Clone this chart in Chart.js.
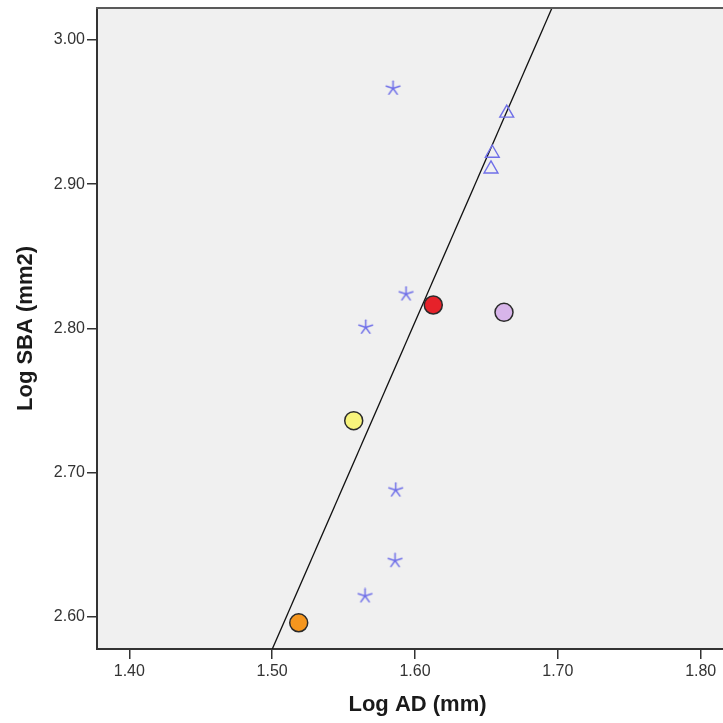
<!DOCTYPE html>
<html>
<head>
<meta charset="utf-8">
<script src="https://cdn.jsdelivr.net/npm/chart.js@4.4.1/dist/chart.umd.min.js"></script>
<style>
  html, body { margin: 0; padding: 0; background: #ffffff; overflow: hidden; width: 723px; height: 723px; }
  #wrap { position: absolute; left: 0; top: 0; width: 738px; height: 723px; }
</style>
</head>
<body>
<div id="wrap"><canvas id="c" width="738" height="723"></canvas></div>
<script>
// ---- data ----
const starAD  = [1.5846, 1.5937, 1.5655, 1.5865, 1.5860, 1.5650];
const starSBA = [2.9665, 2.8239, 2.8008, 2.6880, 2.6390, 2.6146];

const triAD  = [1.6642, 1.6541, 1.6532];
const triSBA = [2.9493, 2.9215, 2.9106];

// red, lavender, yellow, orange circles
const circleAD  = [1.6128, 1.6623, 1.5571, 1.5186];
const circleSBA = [2.8163, 2.8112, 2.7361, 2.5960];

// fitted line endpoints (where it meets the plot frame)
const fitAD  = [1.5001, 1.6959];
const fitSBA = [2.5778, 3.0222];

const xTickValues = [1.40, 1.50, 1.60, 1.70, 1.80];
const xTickLabels = ['1.40', '1.50', '1.60', '1.70', '1.80'];
const yTickValues = [2.60, 2.70, 2.80, 2.90, 3.00];
const yTickLabels = ['2.60', '2.70', '2.80', '2.90', '3.00'];

const xRange = [1.37739, 1.82611];
const yRange = [2.57782, 3.02218];

function pts(xs, ys) { return xs.map((x, i) => ({ x: x, y: ys[i] })); }

// asterisk marker (5 arms)
function makeStar(color) {
  const c = document.createElement('canvas');
  c.width = 17; c.height = 17;
  const g = c.getContext('2d');
  g.strokeStyle = color;
  g.lineWidth = 1.5;
  g.lineCap = 'round';
  const r = 7.2;
  for (let k = 0; k < 5; k++) {
    const a = -Math.PI / 2 + k * 2 * Math.PI / 5;
    g.beginPath();
    g.moveTo(8.5, 8.5);
    g.lineTo(8.5 + r * Math.cos(a), 8.5 + r * Math.sin(a));
    g.stroke();
  }
  return c;
}
const starImg = makeStar('#6f6fe8');

const frame = {
  id: 'frame',
  beforeDraw(chart) {
    const a = chart.chartArea, ctx = chart.ctx;
    ctx.save();
    ctx.fillStyle = '#f0f0f0';
    ctx.fillRect(a.left, a.top, a.right - a.left, a.bottom - a.top);
    ctx.restore();
  },
  afterDraw(chart) {
    const a = chart.chartArea, ctx = chart.ctx;
    ctx.save();
    ctx.strokeStyle = '#5a5a5a';
    ctx.lineWidth = 2;
    ctx.beginPath();
    ctx.moveTo(a.left - 1, a.top);
    ctx.lineTo(a.right, a.top);
    ctx.stroke();
    ctx.restore();
  }
};

const tickFont = { family: "'Liberation Sans', Arial, sans-serif", size: 16 };
const titleFont = { family: "'Liberation Sans', Arial, sans-serif", size: 22, weight: 'bold' };

new Chart(document.getElementById('c'), {
  type: 'scatter',
  data: {
    datasets: [
      {
        label: 'circles',
        data: pts(circleAD, circleSBA),
        pointStyle: 'circle',
        pointRadius: 9,
        pointBorderWidth: 1.5,
        pointBorderColor: '#2a2a2a',
        pointBackgroundColor: ['#e6222a', '#d8b5ea', '#f8f47c', '#f5961e']
      },
      {
        label: 'triangles',
        data: pts(triAD, triSBA),
        pointStyle: 'triangle',
        pointRadius: 8,
        pointBorderWidth: 1.4,
        pointBorderColor: '#6f6fe8',
        pointBackgroundColor: 'rgba(0,0,0,0)'
      },
      {
        label: 'stars',
        data: pts(starAD, starSBA),
        pointStyle: starImg,
        pointRadius: 8
      },
      {
        label: 'fit',
        type: 'line',
        data: pts(fitAD, fitSBA),
        borderColor: '#111111',
        borderWidth: 1.3,
        pointRadius: 0,
        fill: false,
        tension: 0
      }
    ]
  },
  options: {
    responsive: false,
    animation: false,
    devicePixelRatio: 1,
    layout: { autoPadding: false, padding: { top: 8, left: 0, right: 0, bottom: 0 } },
    plugins: { legend: { display: false }, tooltip: { enabled: false } },
    scales: {
      x: {
        type: 'linear',
        min: xRange[0], max: xRange[1],
        afterBuildTicks(scale) { scale.ticks = xTickValues.map(v => ({ value: v })); },
        afterFit(scale) { scale.height = 74; scale.paddingLeft = 0; scale.paddingRight = 0; },
        grid: { display: true, drawOnChartArea: false, drawTicks: true, tickLength: 10, color: '#333333', lineWidth: 1.5 },
        border: { display: true, color: '#333333', width: 2 },
        ticks: {
          font: tickFont, color: '#333333', padding: 3, maxRotation: 0,
          callback: (v, i) => xTickLabels[i]
        },
        title: { display: true, text: 'Log AD (mm)', font: titleFont, color: '#1a1a1a', padding: { top: 0, bottom: 5 } }
      },
      y: {
        type: 'linear',
        min: yRange[0], max: yRange[1],
        afterBuildTicks(scale) { scale.ticks = yTickValues.map(v => ({ value: v })); },
        afterFit(scale) { scale.width = 97; scale.paddingTop = 0; scale.paddingBottom = 0; },
        grid: { display: true, drawOnChartArea: false, drawTicks: true, tickLength: 10, color: '#333333', lineWidth: 1.5 },
        border: { display: true, color: '#333333', width: 2 },
        ticks: {
          font: tickFont, color: '#333333', padding: 2,
          callback: (v, i) => yTickLabels[i]
        },
        title: { display: true, text: 'Log SBA (mm2)', font: titleFont, color: '#1a1a1a', padding: { top: 13, bottom: 0 } }
      }
    }
  },
  plugins: [frame]
});
</script>
</body>
</html>
